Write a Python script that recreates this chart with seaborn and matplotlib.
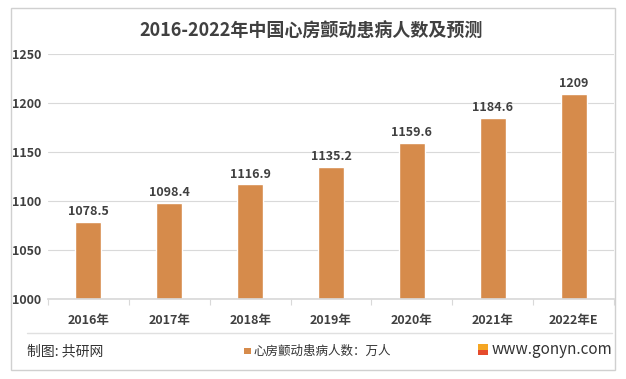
import matplotlib
matplotlib.use("Agg")
import matplotlib.pyplot as plt
import matplotlib.transforms as mtrans
import seaborn as sns
import pandas as pd
import numpy as np
from matplotlib.patches import Rectangle
from matplotlib.lines import Line2D

years = ["2016年", "2017年", "2018年", "2019年", "2020年", "2021年", "2022年E"]
values = [1078.5, 1098.4, 1116.9, 1135.2, 1159.6, 1184.6, 1209]
labels = ["1078.5", "1098.4", "1116.9", "1135.2", "1159.6", "1184.6", "1209"]
yticks = [1000, 1050, 1100, 1150, 1200, 1250]

sns.set_theme(style="white")
plt.rcParams['font.family'] = ['Noto Sans CJK SC', 'DejaVu Sans']

W, H = 626, 379
fig = plt.figure(figsize=(W/100, H/100), dpi=100)
ax = fig.add_axes([48/W, 1-299/H, (614-48)/W, (299-54)/H])

df = pd.DataFrame({"year": years, "value": values})
bar_color = "#D68B4B"
sns.barplot(data=df, x="year", y="value", color=bar_color, width=0.32,
            saturation=1, ax=ax)

ax.set_ylim(1000, 1250)
ax.set_xlim(-0.5, 6.5)
ax.set_yticks(yticks)
ax.yaxis.grid(True, color="#d9d9d9", linewidth=0.8)
ax.set_axisbelow(True)
for s in ["top", "right", "left"]:
    ax.spines[s].set_visible(False)
ax.spines["bottom"].set_color("#d9d9d9")
ax.set_xlabel("")
ax.set_ylabel("")
ax.set_xticks(np.arange(-0.5, 7.0, 1.0), minor=True)
ax.tick_params(axis="x", which="minor", bottom=True, length=4, width=0.8, color="#d9d9d9")
ax.tick_params(axis="y", length=0, pad=0, labelsize=9, labelcolor="#404040")
ax.tick_params(axis="x", which="major", length=0, pad=11, labelsize=9, labelcolor="#404040")
for t in ax.get_xticklabels() + ax.get_yticklabels():
    t.set_fontweight("bold")
for lbl in ax.get_yticklabels():
    lbl.set_horizontalalignment("left")
    lbl.set_transform(mtrans.blended_transform_factory(fig.transFigure, ax.transData))
    lbl.set_x(12/W)

for i, (v, l) in enumerate(zip(values, labels)):
    ax.text(i, v + 4, l, ha="center", va="bottom", fontsize=9,
            fontweight="bold", color="#404040")

fig.text(311/W, 1-31/H, "2016-2022年中国心房颤动患病人数及预测", ha="center", va="center",
         fontsize=13, fontweight="bold", color="#404040")

# outer border
fig.add_artist(Rectangle((11/W, 1-370/H), (615-11)/W, (370-8)/H, transform=fig.transFigure,
                         fill=False, edgecolor="#d0d0d0", linewidth=1))
# separator line
fig.add_artist(Line2D([27/W, 612/W], [1-333/H, 1-333/H], transform=fig.transFigure,
                      color="#e0e0e0", linewidth=1))

fig.text(27/W, 1-351/H, "制图: 共研网", ha="left", va="center", fontsize=10, color="#333333")
fig.add_artist(Rectangle((244/W, 1-354/H), 6.5/W, 6.5/H, transform=fig.transFigure,
                         facecolor=bar_color, edgecolor="none"))
fig.text(253/W, 1-351/H, "心房颤动患病人数：万人", ha="left", va="center", fontsize=9, color="#333333")
fig.add_artist(Rectangle((478/W, 1-355/H), 10/W, 5/H, transform=fig.transFigure,
                         facecolor="#E54B2C", edgecolor="none"))
fig.add_artist(Rectangle((478/W, 1-350/H), 10/W, 6/H, transform=fig.transFigure,
                         facecolor="#F5A623", edgecolor="none"))
fig.text(492/W, 1-349/H, "www.gonyn.com", ha="left", va="center", fontsize=11, color="#333333")

fig.savefig("out.png", dpi=100)
